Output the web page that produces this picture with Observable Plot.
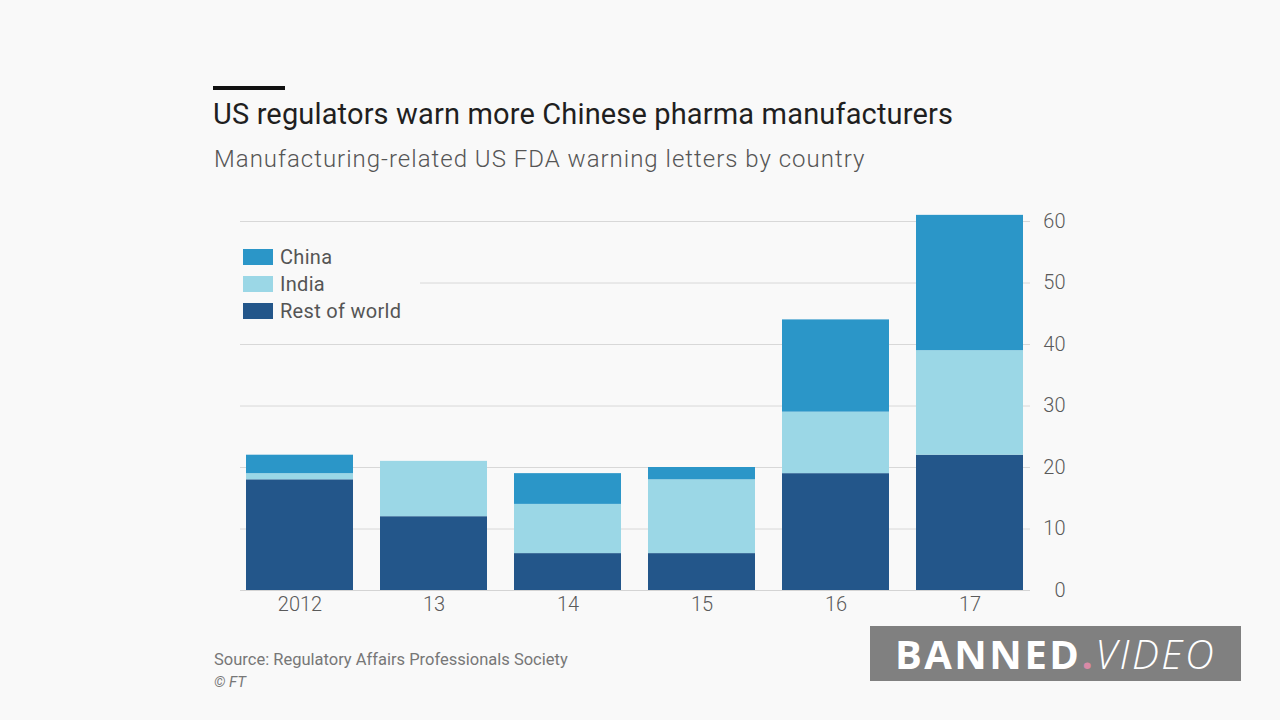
<!DOCTYPE html>
<html>
<head>
<meta charset="utf-8">
<script src="https://cdn.jsdelivr.net/npm/d3@7"></script>
<script src="https://cdn.jsdelivr.net/npm/@observablehq/plot@0.6"></script>
<style>
  html, body { margin: 0; padding: 0; background: #f9f9f9; }
  #page { position: relative; width: 1280px; height: 720px; overflow: hidden; font-family: Roboto, "Noto Sans", sans-serif; background: #f9f9f9; }
  #rule { position: absolute; left: 213px; top: 86px; width: 72px; height: 4px; background: #111; }
  #title { position: absolute; left: 213px; top: 97px; font-size: 29px; letter-spacing: 0.15px; color: #1f1f1f; white-space: nowrap; }
  #subtitle { position: absolute; left: 214px; top: 145px; font-size: 24px; letter-spacing: 1.0px; font-weight: 300; color: #555; white-space: nowrap; }
  #chart { position: absolute; left: 0; top: 200px; }
  #legend { position: absolute; left: 236px; top: 240px; width: 184px; height: 86px; background: #f9f9f9; }
  .li { position: absolute; left: 7px; height: 22px; display: flex; align-items: center; font-size: 20px; letter-spacing: 0.3px; color: #555; }
  .sw { width: 30px; height: 16px; margin-right: 7px; }
  #source { position: absolute; left: 214px; top: 650px; font-size: 16.5px; color: #777; white-space: nowrap; }
  #ft { position: absolute; left: 214px; top: 673px; font-size: 15px; color: #777; font-style: italic; }
  #banner { position: absolute; left: 870px; top: 626px; width: 371px; height: 55px; background: #808080; display: flex; align-items: center; justify-content: center; font-family: "Open Sans", sans-serif; font-size: 40px; color: #fff; letter-spacing: 2.5px; }
  #banner b { font-weight: 700; }
  #banner .dot { color: #d98aa6; font-weight: 700; }
  #banner i { font-weight: 300; }
</style>
</head>
<body>
<div id="page">
  <div id="rule"></div>
  <div id="title">US regulators warn more Chinese pharma manufacturers</div>
  <div id="subtitle">Manufacturing-related US FDA warning letters by country</div>
  <div id="chart"></div>
  <div id="legend"></div>
  <div id="source">Source: Regulatory Affairs Professionals Society</div>
  <div id="ft">© FT</div>
  <div id="banner"><b>BANNED</b><span class="dot">.</span><i>VIDEO</i></div>
</div>
<script>
const years = ["2012", "13", "14", "15", "16", "17"];
const series = ["Rest of world", "India", "China"];
const restOfWorld = [18, 12, 6, 6, 19, 22];
const india = [1, 9, 8, 12, 10, 17];
const china = [3, 0, 5, 2, 15, 22];
const colors = ["#23568a", "#9bd7e6", "#2b96c8"];
const yTicks = [0, 10, 20, 30, 40, 50, 60];
const legendOrder = ["China", "India", "Rest of world"];

const values = [restOfWorld, india, china];
const data = [];
years.forEach((y, i) => {
  series.forEach((s, j) => data.push({year: y, series: s, value: values[j][i]}));
});

const chart = Plot.plot({
  width: 1280,
  height: 430,
  marginTop: 21,
  marginBottom: 40,
  marginLeft: 240,
  marginRight: 250,
  style: {background: "transparent", fontFamily: "Roboto, 'Noto Sans', sans-serif"},
  x: {domain: years, paddingInner: 0.2, paddingOuter: 0.04, label: null},
  y: {domain: [0, 60], label: null},
  color: {domain: series, range: colors},
  marks: [
    Plot.gridY(yTicks.filter(d => d > 0), {stroke: "#d8d8d8", strokeOpacity: 1}),
    Plot.barY(data, {x: "year", y: "value", fill: "series", order: series}),
    Plot.ruleY([0], {stroke: "#d4d4d4"}),
    Plot.axisX({tickSize: 0, tickPadding: 6, fontSize: 20, color: "#555", label: null}),
    Plot.axisY(yTicks, {anchor: "right", tickSize: 0, textAnchor: "end", dx: 26, fontSize: 20, color: "#666", label: null})
  ]
});
chart.querySelectorAll("g[aria-label='x-axis tick label'] text, g[aria-label='y-axis tick label'] text").forEach(t => { t.setAttribute("fill", "#5a5a5a"); t.setAttribute("font-weight", "300"); });
document.getElementById("chart").appendChild(chart);

const legend = document.getElementById("legend");
legendOrder.forEach((name, i) => {
  const item = document.createElement("div");
  item.className = "li";
  item.style.top = (6 + i * 27) + "px";
  const sw = document.createElement("div");
  sw.className = "sw";
  sw.style.background = colors[series.indexOf(name)];
  item.appendChild(sw);
  item.appendChild(document.createTextNode(name));
  legend.appendChild(item);
});
</script>
</body>
</html>
